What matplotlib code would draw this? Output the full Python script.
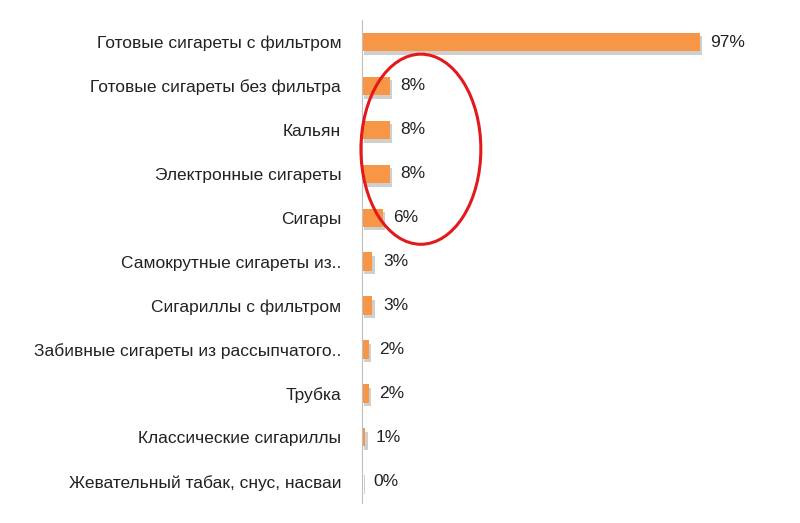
import matplotlib
matplotlib.use("Agg")
import matplotlib.pyplot as plt
from matplotlib.patches import Ellipse

plt.rcParams["font.family"] = "Liberation Sans"

categories = ["Готовые сигареты с фильтром", "Готовые сигареты без фильтра", "Кальян",
              "Электронные сигареты", "Сигары", "Самокрутные сигареты из..",
              "Сигариллы с фильтром", "Забивные сигареты из рассыпчатого..", "Трубка",
              "Классические сигариллы", "Жевательный табак, снус, насваи"]
values = [97, 8, 8, 8, 6, 3, 3, 2, 2, 1, 0.4]
labels = ["97%", "8%", "8%", "8%", "6%", "3%", "3%", "2%", "2%", "1%", "0%"]

fig = plt.figure(figsize=(8, 5.23), dpi=100)
ax = fig.add_axes([0.4525, 0.038, 0.4356, 0.9235])
y = list(range(len(categories)))
ax.barh([i + 0.08 for i in y], values, left=0.6, height=0.42, color="#cfcfcf", zorder=1)
ax.barh(y, values, height=0.42, color="#F79646", zorder=2)
for i, (v, l) in enumerate(zip(values, labels)):
    ax.text(v + 3, i, l, va="center", ha="left", fontsize=12.5, color="#222222")
ax.set_xlim(0, 100)
ax.set_ylim(len(categories) - 0.5, -0.5)
ax.set_yticks(y)
ax.set_yticklabels(categories, fontsize=12.5, color="#222222")
ax.tick_params(axis="y", length=0, pad=15)
ax.set_xticks([])
for s in ["top", "right", "bottom"]:
    ax.spines[s].set_visible(False)
ax.spines["left"].set_color("#bfbfbf")
ax.add_patch(Ellipse((16.9, 2.44), 34.4, 4.33, fill=False, edgecolor="#E3191C", lw=2.2, zorder=3, clip_on=False))
fig.savefig("out.png", dpi=100)
